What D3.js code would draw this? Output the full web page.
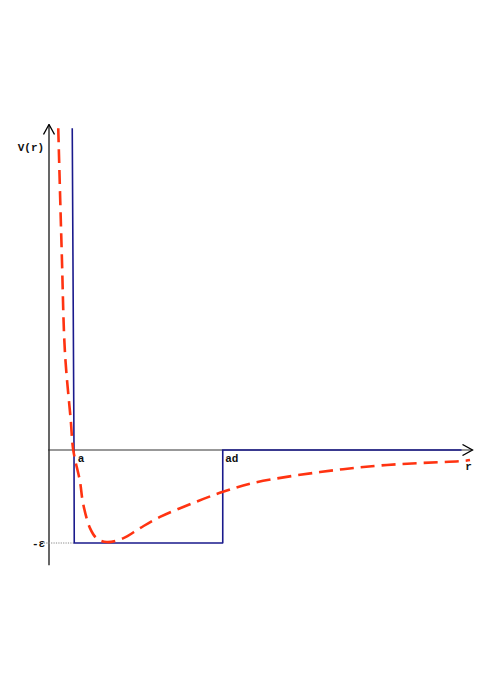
<!DOCTYPE html>
<html>
<head>
<meta charset="utf-8">
<script src="https://cdn.jsdelivr.net/npm/d3@7"></script>
<style>
  body { margin: 0; background: #fff; }
  svg { display: block; }
  .lbl { font-family: "Liberation Mono", "DejaVu Sans Mono", monospace; font-weight: bold; font-size: 11px; fill: #111; }
</style>
</head>
<body>
<svg id="chart" width="491" height="694"></svg>
<script>
// r in units of a, V in units of epsilon
const softR = [0.37, 0.51, 0.64, 0.87, 0.97, 1.24, 1.36, 1.64, 1.91, 2.31, 2.96, 3.64, 4.44, 5.76, 6.96, 8.16, 10.84, 13.52, 16.56, 16.84]
const softV = [3.46, 2.12, 1.04, 0.32, 0, -0.34, -0.57, -0.84, -0.95, -0.99, -0.95, -0.84, -0.72, -0.57, -0.45, -0.355, -0.237, -0.161, -0.118, -0.108]
// square well outline
const wellR = [0.93, 1.0, 1.01, 6.97, 6.95, 6.95, 16.5]
const wellV = [3.46, 0, -1, -1, -1, 0, 0]
const labels = [
  { text: 'V(r)', r: -1.25, v: 3.25 },
  { text: 'a', r: 1.15, v: -0.1 },
  { text: 'ad', r: 7.05, v: -0.1 },
  { text: 'r', r: 16.65, v: -0.18 },
  { text: '-\u03b5', r: -0.68, v: -1.01 }
]

const svg = d3.select('#chart')
const x = d3.scaleLinear().domain([0, 17]).range([49, 474])
const y = d3.scaleLinear().domain([-1, 0]).range([543, 450])

// arrowhead for the axes
svg.append('defs').append('marker')
  .attr('id', 'arrow')
  .attr('viewBox', '0 0 12 12')
  .attr('refX', 11).attr('refY', 6)
  .attr('markerWidth', 12).attr('markerHeight', 12)
  .attr('markerUnits', 'userSpaceOnUse')
  .attr('orient', 'auto')
  .append('path')
  .attr('d', 'M1,0.5 L11,6 L1,11.5')
  .attr('fill', 'none')
  .attr('stroke', '#000')
  .attr('stroke-width', 1.3)

// axes
svg.append('line')
  .attr('x1', x(0)).attr('y1', y(-1.24))
  .attr('x2', x(0)).attr('y2', y(3.5))
  .attr('stroke', '#000').attr('stroke-width', 1.2)
  .attr('marker-end', 'url(#arrow)')
svg.append('line')
  .attr('x1', x(0) - 1).attr('y1', y(0))
  .attr('x2', x(16.94)).attr('y2', y(0))
  .attr('stroke', '#333').attr('stroke-width', 1.1)
  .attr('marker-end', 'url(#arrow)')

// dotted guide at -epsilon
svg.append('line')
  .attr('x1', x(-0.3)).attr('y1', y(-1))
  .attr('x2', x(1.0)).attr('y2', y(-1))
  .attr('stroke', '#888').attr('stroke-width', 1)
  .attr('stroke-dasharray', '1.2,1.2')

// square well
const well = d3.zip(wellR, wellV)
svg.append('path')
  .attr('d', d3.line().x(d => x(d[0])).y(d => y(d[1]))(well))
  .attr('fill', 'none')
  .attr('stroke', '#1a1a8c')
  .attr('stroke-width', 1.6)

// soft potential
const soft = d3.zip(softR, softV)
svg.append('path')
  .attr('d', d3.line().curve(d3.curveCatmullRom.alpha(0.5)).x(d => x(d[0])).y(d => y(d[1]))(soft))
  .attr('fill', 'none')
  .attr('stroke', '#ff3311')
  .attr('stroke-width', 2.6)
  .attr('stroke-dasharray', '14,7')

svg.selectAll('text.lbl')
  .data(labels)
  .enter().append('text')
  .attr('class', 'lbl')
  .attr('x', d => x(d.r))
  .attr('y', d => y(d.v))
  .attr('dominant-baseline', 'middle')
  .text(d => d.text)
</script>
</body>
</html>
